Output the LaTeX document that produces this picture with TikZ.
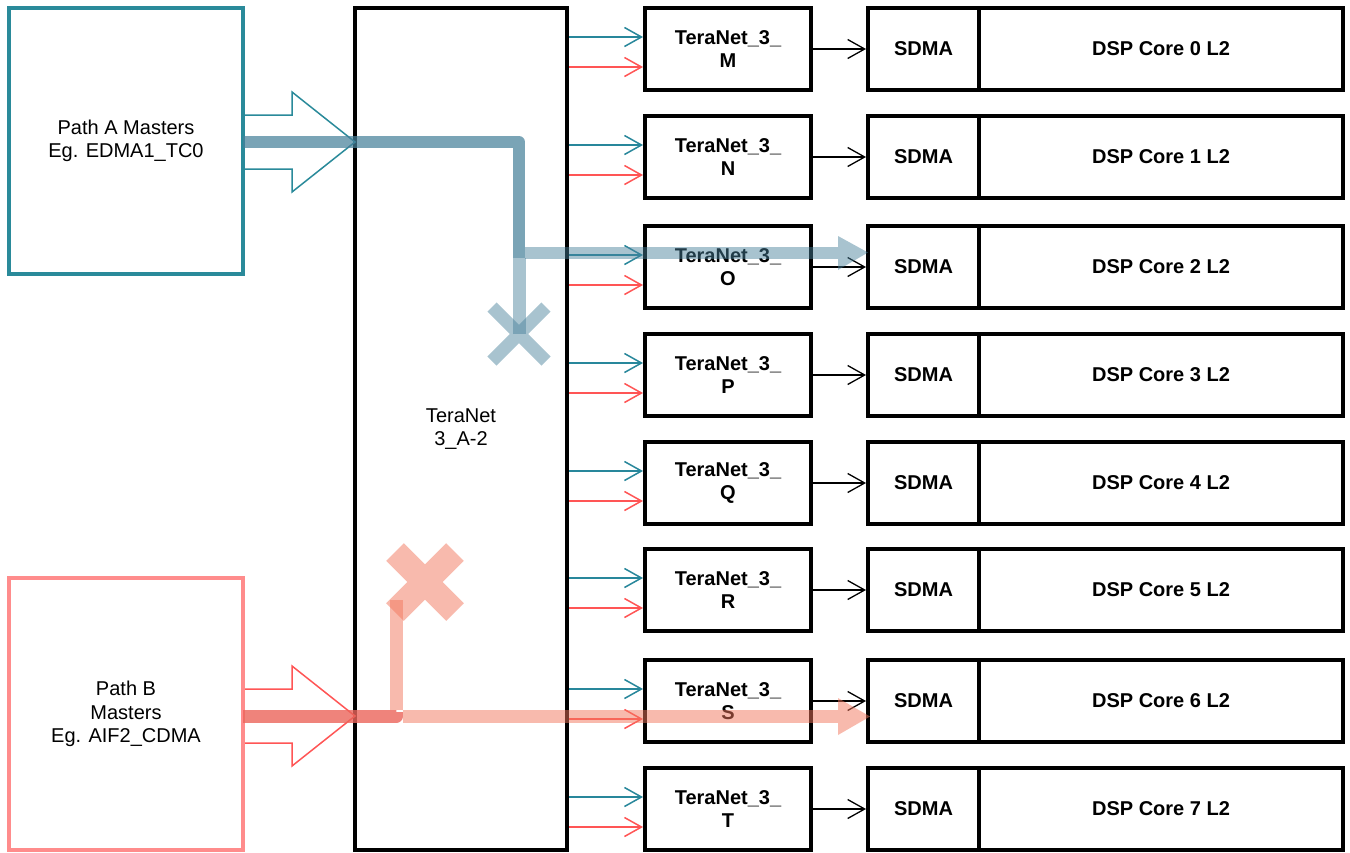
\documentclass[tikz,border=0pt]{standalone}
\usepackage{fontspec}
\setmainfont{Liberation Sans}
\usetikzlibrary{arrows.meta}
\definecolor{tealA}{RGB}{42,138,154}
\definecolor{pinkB}{RGB}{255,140,140}
\definecolor{tealarrow}{RGB}{40,135,155}
\definecolor{redarrow}{RGB}{255,85,85}
\definecolor{tealhl}{RGB}{72,129,155}
\definecolor{pinkhl}{RGB}{243,119,93}
\definecolor{pinkdk}{RGB}{235,100,90}
\begin{document}
\begin{tikzpicture}[x=1pt,y=-1pt,
  txt/.style={font={\fontsize{20}{23.5}\selectfont}, align=center, text=black},
  btxt/.style={font={\fontsize{20}{23.5}\selectfont\bfseries}, align=center, text=black},
  blk/.style={draw=black, line width=4pt, inner sep=0pt},
  tnbox/.style={blk, btxt, minimum width=166pt, minimum height=82pt},
  sdbox/.style={blk, btxt, minimum width=111pt, minimum height=82pt},
  dspbox/.style={blk, btxt, minimum width=364pt, minimum height=82pt},
  srcbox/.style={line width=4pt, inner sep=0pt, txt, minimum width=234pt},
  thin/.style={line width=1.5pt, -{Straight Barb[length=17pt,width=19pt]}},
  tealarr/.style={thin, draw=tealarrow},
  redarr/.style={thin, draw=redarrow},
  blackarr/.style={line width=1.3pt, draw=black, -{Straight Barb[length=17pt,width=19pt]}},
  hollowA/.style={draw=tealA, line width=1.5pt},
  hollowB/.style={draw=redarrow, line width=1.5pt},
  tealdark/.style={draw=tealhl, opacity=0.72, line width=12pt, line join=round},
  teallight/.style={draw=tealhl, opacity=0.47},
  pinkdark/.style={draw=pinkdk, opacity=0.8, line width=13pt, line join=round},
  pinklight/.style={draw=pinkhl, opacity=0.5}
]
\useasboundingbox (0,0) rectangle (1350,852);
\fill[white] (0,0) rectangle (1350,852);

% source boxes
\node[srcbox, draw=tealA, minimum height=266pt] (pa) at (126,141) {Path A Masters\\Eg. EDMA1\_TC0};
\node[srcbox, draw=pinkB, minimum height=272pt] (pb) at (126,714) {Path B\\Masters\\Eg. AIF2\_CDMA};

% big interconnect
\node[blk, txt, minimum width=212pt, minimum height=842pt] (big) at (461,429) {TeraNet\\3\_A-2};

% rows
\foreach \i/\t/\l in {0/8/M,1/116/N,2/226/O,3/334/P,4/442/Q,5/549/R,6/660/S,7/768/T}{
  \node[tnbox] (tn\i) at (728,\t+41) {TeraNet\_3\_\\\l};
  \node[sdbox] (sd\i) at (923.5,\t+41) {SDMA};
  \node[dspbox] (dsp\i) at (1161,\t+41) {DSP Core \i{} L2};
  \draw[blackarr] (tn\i) -- (sd\i);
  \coordinate (ta\i) at ([yshift=-31pt]tn\i.north west);
  \coordinate (ra\i) at ([yshift=-61pt]tn\i.north west);
  \draw[tealarr] (ta\i -| big.east) -- (ta\i);
  \draw[redarr] (ra\i -| big.east) -- (ra\i);
}

% hollow block arrows
\draw[hollowA] (245,115) -- (292,115) -- (292,92) -- (355,142) -- (292,192) -- (292,169) -- (245,169);
\draw[hollowB] (245,689) -- (292,689) -- (292,666) -- (355,716) -- (292,766) -- (292,743) -- (245,743);

% path A highlight
\draw[tealdark] (243,142) -- (519,142) -- (519,258);
\draw[teallight, line width=12pt] (525,252.5) -- (838,252.5);
\fill[tealhl, opacity=0.47] (838,236) -- (868,252.5) -- (838,270) -- cycle;
\draw[teallight, line width=13pt] (519,258) -- (519,334);
\draw[teallight, line width=13pt] (492,307) -- (546,361) (546,307) -- (492,361);

% path B highlight
\draw[pinkdark] (243,716.5) -- (396,716.5) -- (396,712);
\draw[pinklight, line width=13pt] (396,710) -- (396,600);
\draw[pinklight, line width=13pt] (402.5,716.5) -- (838,716.5);
\fill[pinkhl, opacity=0.5] (838,698) -- (870,716.5) -- (838,735) -- cycle;
\draw[pinklight, line width=25pt] (395,552) -- (455,612) (455,552) -- (395,612);
\end{tikzpicture}
\end{document}
